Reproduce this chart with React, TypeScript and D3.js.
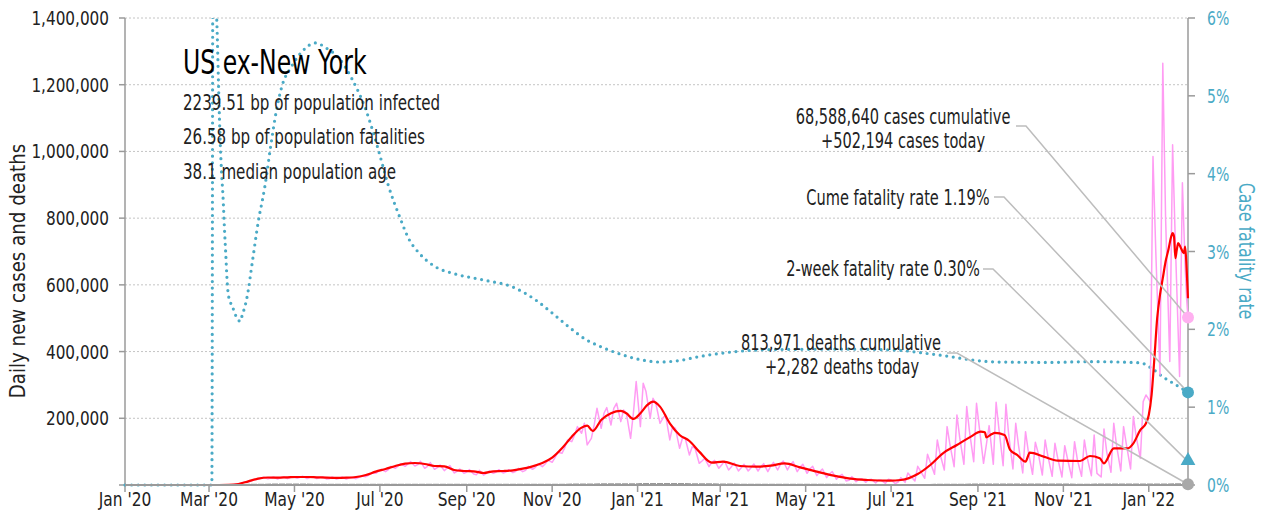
import React from "react";
import * as d3 from "d3";

const W = 1262;
const H = 523;
const FONT = '"DejaVu Sans Condensed", "DejaVu Sans", sans-serif';

// ---------- data ----------
const casesTicks = [0, 200000, 400000, 600000, 800000, 1000000, 1200000, 1400000];
const cfrTicks = [0, 1, 2, 3, 4, 5, 6];
const monthTicks = [
  "2020-01-01", "2020-03-01", "2020-05-01", "2020-07-01", "2020-09-01", "2020-11-01",
  "2021-01-01", "2021-03-01", "2021-05-01", "2021-07-01", "2021-09-01", "2021-11-01", "2022-01-01",
];
const monthTickLabels = [
  "Jan '20", "Mar '20", "May '20", "Jul '20", "Sep '20", "Nov '20",
  "Jan '21", "Mar '21", "May '21", "Jul '21", "Sep '21", "Nov '21", "Jan '22",
];

// 7-day average of daily new cases (thousands)
const avgCases: [string, number][] = [
  ["2020-01-01", 0], ["2020-02-23", 0], ["2020-03-08", 0.06], ["2020-03-15", 0.5], ["2020-03-22", 3],
  ["2020-03-29", 11], ["2020-04-05", 19], ["2020-04-12", 22.5], ["2020-04-19", 22], ["2020-04-26", 23],
  ["2020-05-03", 24], ["2020-05-10", 24], ["2020-05-17", 23], ["2020-05-24", 22], ["2020-05-31", 21.5],
  ["2020-06-07", 22], ["2020-06-14", 24], ["2020-06-21", 30], ["2020-06-28", 40], ["2020-07-05", 48],
  ["2020-07-12", 57], ["2020-07-19", 64], ["2020-07-26", 66], ["2020-08-02", 63], ["2020-08-09", 57],
  ["2020-08-16", 56], ["2020-08-23", 45], ["2020-08-30", 42], ["2020-09-06", 41], ["2020-09-13", 36],
  ["2020-09-20", 41], ["2020-09-27", 42], ["2020-10-04", 44], ["2020-10-11", 49], ["2020-10-18", 56],
  ["2020-10-25", 66], ["2020-11-01", 82], ["2020-11-08", 110], ["2020-11-15", 145], ["2020-11-22", 172],
  ["2020-11-26", 178], ["2020-11-30", 162], ["2020-12-06", 195], ["2020-12-13", 215], ["2020-12-20", 222],
  ["2020-12-24", 215], ["2020-12-29", 198], ["2021-01-03", 215], ["2021-01-08", 240], ["2021-01-12", 250],
  ["2021-01-17", 235], ["2021-01-24", 185], ["2021-01-31", 150], ["2021-02-07", 132], ["2021-02-14", 100],
  ["2021-02-23", 67], ["2021-03-03", 70], ["2021-03-15", 57], ["2021-03-27", 55], ["2021-04-06", 58],
  ["2021-04-16", 65], ["2021-04-27", 53], ["2021-05-09", 40], ["2021-05-21", 28], ["2021-06-02", 19],
  ["2021-06-14", 15], ["2021-06-30", 13], ["2021-07-08", 15], ["2021-07-20", 33], ["2021-07-29", 60],
  ["2021-08-07", 95], ["2021-08-17", 120], ["2021-08-27", 145], ["2021-09-03", 160], ["2021-09-06", 158],
  ["2021-09-07", 143], ["2021-09-11", 153], ["2021-09-13", 156], ["2021-09-20", 150], ["2021-09-24", 105],
  ["2021-09-29", 90], ["2021-10-05", 70], ["2021-10-08", 97], ["2021-10-18", 85], ["2021-10-28", 73],
  ["2021-11-13", 72], ["2021-11-20", 87], ["2021-11-27", 80], ["2021-11-30", 65], ["2021-12-07", 110],
  ["2021-12-17", 110], ["2021-12-21", 125], ["2021-12-26", 165], ["2021-12-30", 185], ["2022-01-01", 210],
  ["2022-01-03", 270], ["2022-01-05", 380], ["2022-01-07", 500], ["2022-01-09", 570], ["2022-01-11", 620],
  ["2022-01-13", 670], ["2022-01-15", 705], ["2022-01-17", 745], ["2022-01-18", 755], ["2022-01-19", 745],
  ["2022-01-20", 680], ["2022-01-21", 705], ["2022-01-22", 725], ["2022-01-24", 710], ["2022-01-26", 695],
  ["2022-01-27", 715], ["2022-01-28", 650], ["2022-01-29", 560],
];

// raw daily new cases (thousands): per week starting Sunday 2020-03-01 -> [Sun, Tue, Thu]
const pinkWeekStart = "2020-03-01";
const pinkWeekly: [number, number, number][] = [
  [0.01, 0.02, 0.04], [0.05, 0.1, 0.2], [0.5, 0.9, 1.8], [3, 5, 8], [9, 12, 16],
  [17, 20, 23], [19, 21, 24], [18, 22, 24], [19, 22, 25], [20, 23, 26],
  [19, 23, 25], [19, 22, 25], [18, 19, 24], [18, 20, 24], [18, 21, 23],
  [19, 23, 27], [25, 30, 35], [35, 41, 47], [40, 46, 56], [50, 57, 64],
  [56, 63, 70], [57, 61, 71], [50, 56, 67], [47, 52, 60], [43, 51, 58],
  [36, 41, 48], [35, 39, 46], [33, 31, 44], [30, 35, 42], [35, 39, 46],
  [36, 39, 46], [37, 41, 50], [40, 44, 56], [47, 53, 63], [55, 63, 75],
  [68, 82, 98], [95, 112, 135], [130, 150, 175], [155, 185, 120], [140, 180, 230],
  [170, 215, 232], [180, 230, 245], [190, 225, 215], [140, 215, 310], [175, 305, 280],
  [200, 260, 245], [185, 200, 210], [135, 175, 170], [110, 140, 140], [90, 115, 110],
  [65, 72, 80], [55, 68, 74], [50, 60, 72], [45, 55, 66], [42, 52, 62],
  [42, 52, 63], [42, 55, 64], [40, 56, 68], [45, 62, 72], [45, 60, 70],
  [40, 53, 62], [35, 48, 56], [28, 40, 48], [22, 33, 40], [17, 26, 32],
  [12, 14, 25], [10, 17, 19], [8, 16, 17], [6, 15, 14], [5, 17, 15],
  [4, 9, 22], [8, 36, 26], [12, 56, 42], [20, 92, 68], [32, 135, 92],
  [45, 175, 122], [55, 210, 142], [62, 235, 160], [70, 245, 172], [65, 120, 178],
  [62, 248, 168], [58, 242, 150], [48, 185, 118], [36, 160, 100], [32, 128, 96],
  [30, 135, 86], [26, 125, 80], [24, 118, 78], [22, 130, 76], [26, 135, 82],
  [28, 150, 35], [24, 168, 98], [38, 185, 118], [42, 175, 122], [48, 205, 145],
  [80, 250, 270], [250, 985, 700], [330, 1264, 800], [370, 1020, 720], [325, 906, 650],
];
const pinkTail: [string, number][] = [["2022-01-28", 560], ["2022-01-29", 502.194]];

// 7-day average daily deaths (thousands)
const avgDeaths: [string, number][] = [
  ["2020-01-01", 0], ["2020-03-15", 0.05], ["2020-04-01", 0.5], ["2020-04-15", 1.2], ["2020-05-01", 1.3],
  ["2020-05-15", 1.1], ["2020-06-01", 0.9], ["2020-06-15", 0.6], ["2020-07-01", 0.55], ["2020-07-15", 0.8],
  ["2020-08-01", 1.1], ["2020-08-15", 1.05], ["2020-09-01", 0.9], ["2020-09-15", 0.8], ["2020-10-01", 0.75],
  ["2020-10-15", 0.75], ["2020-11-01", 0.85], ["2020-11-15", 1.2], ["2020-12-01", 1.7], ["2020-12-15", 2.5],
  ["2021-01-01", 2.6], ["2021-01-15", 3.1], ["2021-02-01", 2.9], ["2021-02-15", 2.2], ["2021-03-01", 1.8],
  ["2021-03-15", 1.0], ["2021-04-01", 0.85], ["2021-04-15", 0.7], ["2021-05-01", 0.65], ["2021-05-15", 0.55],
  ["2021-06-01", 0.4], ["2021-06-15", 0.3], ["2021-07-01", 0.25], ["2021-07-15", 0.25], ["2021-08-01", 0.4],
  ["2021-08-15", 0.8], ["2021-09-01", 1.3], ["2021-09-15", 1.8], ["2021-10-01", 1.8], ["2021-10-15", 1.5],
  ["2021-11-01", 1.2], ["2021-11-15", 1.1], ["2021-12-01", 1.2], ["2021-12-15", 1.25], ["2022-01-01", 1.3],
  ["2022-01-15", 1.8], ["2022-01-29", 2.282],
];

// cumulative case fatality rate (%)
const cfrSeries: [string, number][] = [
  ["2020-01-01", 0], ["2020-03-02", 0], ["2020-03-03", 0], ["2020-03-04", 9], ["2020-03-05", 8],
  ["2020-03-06", 6.4], ["2020-03-07", 5.7], ["2020-03-08", 5.0], ["2020-03-09", 4.4], ["2020-03-10", 4.0],
  ["2020-03-11", 3.7], ["2020-03-12", 3.3], ["2020-03-13", 2.95], ["2020-03-14", 2.6], ["2020-03-15", 2.42],
  ["2020-03-16", 2.38], ["2020-03-17", 2.3], ["2020-03-18", 2.28], ["2020-03-19", 2.22], ["2020-03-20", 2.18],
  ["2020-03-21", 2.14], ["2020-03-22", 2.12], ["2020-03-23", 2.1], ["2020-03-25", 2.2], ["2020-03-27", 2.32],
  ["2020-03-29", 2.5], ["2020-03-31", 2.75], ["2020-04-02", 3.0], ["2020-04-04", 3.25], ["2020-04-06", 3.47],
  ["2020-04-08", 3.65], ["2020-04-10", 3.85], ["2020-04-14", 4.35], ["2020-04-18", 4.8], ["2020-04-22", 5.12],
  ["2020-04-29", 5.38], ["2020-05-07", 5.58], ["2020-05-16", 5.68], ["2020-05-24", 5.61], ["2020-06-02", 5.48],
  ["2020-06-11", 5.22], ["2020-06-21", 4.82], ["2020-06-30", 4.3], ["2020-07-07", 3.85], ["2020-07-15", 3.45],
  ["2020-07-22", 3.15], ["2020-07-29", 2.98], ["2020-08-10", 2.8], ["2020-08-22", 2.72], ["2020-09-14", 2.63],
  ["2020-10-03", 2.55], ["2020-10-20", 2.38], ["2020-11-01", 2.21], ["2020-11-13", 2.03], ["2020-11-25", 1.87],
  ["2020-12-04", 1.79], ["2020-12-20", 1.68], ["2021-01-03", 1.61], ["2021-01-17", 1.58], ["2021-01-31", 1.6],
  ["2021-02-14", 1.65], ["2021-03-10", 1.71], ["2021-04-08", 1.74], ["2021-06-01", 1.745], ["2021-07-07", 1.73],
  ["2021-07-22", 1.7], ["2021-08-12", 1.65], ["2021-08-26", 1.61], ["2021-09-16", 1.58], ["2021-10-22", 1.575],
  ["2021-11-20", 1.585], ["2021-12-26", 1.57], ["2022-01-03", 1.5], ["2022-01-11", 1.39], ["2022-01-21", 1.28],
  ["2022-01-29", 1.19],
];

const regionName = "US ex-New York";
const infectedBp = 2239.51;
const fatalitiesBp = 26.58;
const medianAge = 38.1;
const cumCases = 68588640;
const casesToday = 502194;
const cumeCfr = 1.19;
const twoWeekCfr = 0.3;
const cumDeaths = 813971;
const deathsToday = 2282;

// ---------- colours ----------
const PINK = "#ff9cf3";
const PINK_DOT = "#ffb0f0";
const RED = "#ff0000";
const TEAL = "#4aaac6";
const GRAY = "#9a9a9a";
const GRID = "#c4c4c4";
const LEADER = "#bdbdbd";

type TProps = {
  x: number;
  y: number;
  size: number;
  sx: number;
  anchor?: "start" | "middle" | "end";
  fill?: string;
  rotate?: number;
  dy?: string;
  children: React.ReactNode;
};

// text drawn with a horizontal squeeze to imitate a condensed face
function T({ x, y, size, sx, anchor = "start", fill = "#222", rotate = 0, dy, children }: TProps) {
  return (
    <text
      transform={`translate(${x},${y}) rotate(${rotate}) scale(${sx},1)`}
      fontSize={size}
      textAnchor={anchor}
      fill={fill}
      dy={dy}
    >
      {children}
    </text>
  );
}

export default function App() {
  const parse = d3.utcParse("%Y-%m-%d");
  const P = (s: string) => parse(s) as Date;

  const left = 125, right = 1188, top = 18, bottom = 485;
  const x = d3.scaleUtc().domain([P("2020-01-01"), P("2022-01-29")]).range([left, right]);
  const y = d3.scaleLinear().domain([0, 1400000]).range([bottom, top]);
  const yR = d3.scaleLinear().domain([0, 6]).range([bottom, top]);

  const fmt = d3.format(",");

  const start = P(pinkWeekStart);
  const pinkPts: [Date, number][] = [];
  pinkWeekly.forEach(([lo, hi, mid], k) => {
    pinkPts.push([d3.utcDay.offset(start, 7 * k), lo]);
    pinkPts.push([d3.utcDay.offset(start, 7 * k + 2), hi]);
    pinkPts.push([d3.utcDay.offset(start, 7 * k + 4), mid]);
  });
  pinkTail.forEach(([d, v]) => pinkPts.push([P(d), v]));
  const pinkFull: [Date, number][] = [[P("2020-01-01"), 0], [P("2020-02-23"), 0], ...pinkPts];

  const lineK = d3
    .line<[Date, number]>()
    .x((d) => x(d[0]))
    .y((d) => y(d[1] * 1000));
  const lineKSmooth = d3
    .line<[Date, number]>()
    .x((d) => x(d[0]))
    .y((d) => y(d[1] * 1000))
    .curve(d3.curveMonotoneX);
  const lineCfr = d3
    .line<[Date, number]>()
    .x((d) => x(d[0]))
    .y((d) => yR(d[1]))
    .curve(d3.curveMonotoneX);

  const pinkPath = lineK(pinkFull) || "";
  const redPath = lineKSmooth(avgCases.map(([d, v]) => [P(d), v] as [Date, number])) || "";
  const deathPath = lineKSmooth(avgDeaths.map(([d, v]) => [P(d), v] as [Date, number])) || "";
  const cfrPath = lineCfr(cfrSeries.map(([d, v]) => [P(d), v] as [Date, number])) || "";

  const endX = x(P("2022-01-29"));
  const pinkEndY = y(casesToday);
  const cfrEndY = yR(cumeCfr);
  const twoWeekY = yR(twoWeekCfr);
  const deathEndY = y(deathsToday);

  const tri = d3.symbol().type(d3.symbolTriangle).size(95)() || "";

  return (
    <svg
      width={W}
      height={H}
      style={{ position: "absolute", left: 0, top: 0, background: "#fff" }}
      fontFamily={FONT}
    >
      <defs>
        <clipPath id="plotClip">
          <rect x={left - 4} y={top} width={right - left + 8} height={bottom - top + 6} />
        </clipPath>
      </defs>

      {/* gridlines */}
      {casesTicks.slice(1).map((t) => (
        <line key={t} x1={left} x2={right} y1={y(t)} y2={y(t)} stroke={GRID} strokeWidth={1} strokeDasharray="2,2" />
      ))}

      {/* left axis */}
      <line x1={left} x2={left} y1={top} y2={bottom} stroke={GRAY} strokeWidth={1.5} />
      {casesTicks.map((t) => (
        <g key={t}>
          <line x1={left - 6} x2={left} y1={y(t)} y2={y(t)} stroke={GRAY} strokeWidth={1.5} />
          {t > 0 && (
            <T x={left - 16} y={y(t)} dy="0.36em" size={19.5} sx={0.87} anchor="end">
              {fmt(t)}
            </T>
          )}
        </g>
      ))}
      <T x={25} y={271} rotate={-90} size={22} sx={0.92} anchor="middle">
        Daily new cases and deaths
      </T>

      {/* right axis */}
      <line x1={right} x2={right} y1={top} y2={bottom} stroke={GRAY} strokeWidth={1.5} />
      {cfrTicks.map((t) => (
        <g key={t}>
          <line x1={right} x2={right + 7} y1={yR(t)} y2={yR(t)} stroke={GRAY} strokeWidth={1.5} />
          <T x={right + 19} y={yR(t)} dy="0.36em" size={19.5} sx={0.8} fill={TEAL}>
            {`${t}%`}
          </T>
        </g>
      ))}
      <T x={1239} y={251} rotate={90} size={21} sx={0.84} anchor="middle" fill={TEAL}>
        Case fatality rate
      </T>

      {/* x axis */}
      {monthTicks.map((m, i) => (
        <g key={m}>
          <line x1={x(P(m))} x2={x(P(m))} y1={bottom} y2={bottom + 7} stroke={GRAY} strokeWidth={1.5} />
          <T x={x(P(m))} y={bottom + 14} dy="0.36em" size={19.5} sx={0.88} anchor="middle">
            {monthTickLabels[i]}
          </T>
        </g>
      ))}

      {/* series */}
      <g clipPath="url(#plotClip)">
        <path d={cfrPath} fill="none" stroke={TEAL} strokeWidth={3.2} strokeDasharray="0,6.6" strokeLinecap="round" />
        <path d={pinkPath} fill="none" stroke={PINK} strokeWidth={1.5} strokeLinejoin="round" />
        <path d={redPath} fill="none" stroke={RED} strokeWidth={2.2} strokeLinejoin="round" />
      </g>
      <line x1={left} x2={right} y1={bottom} y2={bottom} stroke={GRAY} strokeWidth={2} />
      <path d={deathPath} fill="none" stroke={GRAY} strokeWidth={2} strokeDasharray="6,1" />

      {/* title block */}
      <T x={183} y={74} size={34} sx={0.77} fill="#000">{regionName}</T>
      <T x={183} y={110} size={21} sx={0.8}>{`${infectedBp} bp of population infected`}</T>
      <T x={183} y={144} size={21} sx={0.8}>{`${fatalitiesBp} bp of population fatalities`}</T>
      <T x={183} y={179} size={21} sx={0.8}>{`${medianAge} median population age`}</T>

      {/* leader lines */}
      <polyline points={`1016,126 1026,126 ${endX},${pinkEndY}`} fill="none" stroke={LEADER} strokeWidth={1.5} />
      <polyline points={`994,197 1004,197 ${endX},${cfrEndY}`} fill="none" stroke={LEADER} strokeWidth={1.5} />
      <polyline points={`983,269 993,269 ${endX},${twoWeekY}`} fill="none" stroke={LEADER} strokeWidth={1.5} />
      <polyline points={`947,353 957,353 ${endX},${deathEndY}`} fill="none" stroke={LEADER} strokeWidth={1.5} />

      {/* annotation texts */}
      <T x={903} y={124} size={20.5} sx={0.79} anchor="middle">{`${fmt(cumCases)} cases cumulative`}</T>
      <T x={903} y={148} size={20.5} sx={0.79} anchor="middle">{`+${fmt(casesToday)} cases today`}</T>
      <T x={898} y={205} size={20.5} sx={0.79} anchor="middle">{`Cume fatality rate ${cumeCfr.toFixed(2)}%`}</T>
      <T x={883} y={276} size={20.5} sx={0.79} anchor="middle">{`2-week fatality rate ${twoWeekCfr.toFixed(2)}%`}</T>
      <T x={841} y={350} size={20.5} sx={0.79} anchor="middle">{`${fmt(cumDeaths)} deaths cumulative`}</T>
      <T x={842} y={374} size={20.5} sx={0.79} anchor="middle">{`+${fmt(deathsToday)} deaths today`}</T>

      {/* end markers */}
      <circle cx={endX} cy={pinkEndY} r={6} fill={PINK_DOT} />
      <circle cx={endX} cy={cfrEndY} r={6} fill={TEAL} />
      <path d={tri} transform={`translate(${endX},${twoWeekY - 1})`} fill={TEAL} />
      <circle cx={endX} cy={deathEndY} r={6} fill="#a8a8a8" />
    </svg>
  );
}
